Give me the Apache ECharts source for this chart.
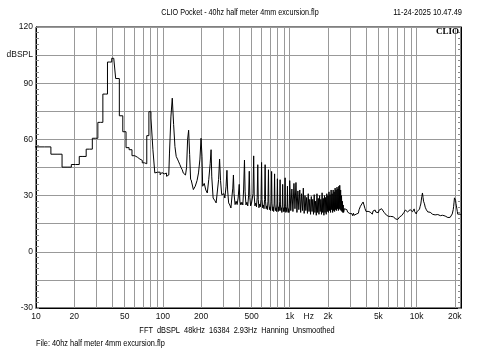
<!DOCTYPE html>
<html><head><meta charset="utf-8">
<script src="https://cdn.jsdelivr.net/npm/echarts@6/dist/echarts.min.js"></script>
<style>html,body{margin:0;padding:0;background:#fff}#c{width:480px;height:360px}</style>
</head><body><div id="c"></div>
<script>
// FFT bins (2.93 Hz spacing) for the low-frequency staircase part
const lowFreq = [8.79, 11.72, 14.65, 17.58, 20.51, 23.44, 26.37, 29.30, 32.23, 35.16, 38.09, 41.02, 43.95, 46.88, 49.80, 52.73, 55.66, 58.59, 61.52, 64.45, 67.38, 70.31, 73.24, 76.17, 79.10, 82.03, 84.96, 87.89, 90.82, 93.75, 96.68, 99.61, 102.54, 105.47, 108.40, 111.33, 114.26, 117.19, 120.12, 123.05, 125.98, 128.91, 131.84, 134.77, 137.70, 140.63, 143.55, 146.48, 149.41, 152.34, 155.27, 158.20, 161.13, 164.06, 166.99];
const lowSpl = [56, 56, 52.1, 45.2, 46.6, 50.9, 54.8, 60.6, 69.1, 84.2, 101.3, 103.3, 92.5, 72.6, 64.1, 55.6, 54.5, 51.3, 50.5, 49.5, 48.8, 47.5, 47, 62, 74.8, 71.4, 54.5, 42.1, 42.5, 42.5, 41.1, 42.3, 41.6, 42, 40.3, 41, 52.7, 72, 82, 68, 56.2, 50.9, 49.5, 48, 46.5, 45, 43.8, 42, 41, 41.5, 45, 60, 64.9, 52, 38.5];

// harmonic region 167 Hz - 1 kHz
const midFreq = [166.99, 174, 180, 186, 191, 196, 200, 203.5, 206, 212, 218, 224, 230, 236, 240, 243, 249, 256, 263, 269, 275, 280, 285, 291, 297, 303, 308, 315, 320, 324, 330, 337, 344, 351, 356, 360, 364, 371, 378, 385, 392, 400, 405, 412, 420, 427, 433, 440, 445, 452, 460, 467, 474, 480, 485, 492, 500, 507, 514, 520, 525, 532, 540, 547, 554, 560, 565, 572, 580, 587, 594, 600, 605, 612, 620, 627, 634, 640, 645, 652, 660, 667, 674, 680, 685, 692, 700, 707, 714, 720, 725, 732, 740, 747, 754, 760, 765, 772, 780, 787, 794, 800, 805, 812, 820, 827, 834, 840, 845, 852, 860, 867, 874, 880, 885, 892, 900, 907, 914, 920, 925, 932, 940, 947, 954, 960, 965, 972, 980, 987, 994, 1000];
const midSpl = [38.5, 33.2, 35, 38, 42.1, 49.5, 60.6, 51, 35, 36.5, 33, 31.4, 38.5, 47, 54.5, 40, 28.7, 27.5, 26.1, 25.2, 38.5, 49.5, 38, 30.5, 29.6, 31, 28.7, 35, 43.5, 33, 26.1, 25, 23.4, 30, 34, 41, 31, 25.2, 27, 25.2, 28.7, 36, 27, 25, 26.5, 25, 33, 49, 32, 25, 26.5, 24.5, 30, 43, 29, 24.5, 26, 25, 31, 51.2, 30, 24.5, 26, 24, 29, 46.5, 28, 23.5, 25.5, 24, 28, 47.7, 28, 23.5, 25, 23, 28, 46.5, 27, 23, 24.5, 22.5, 27, 43.8, 26, 22.5, 24, 22, 27, 42.9, 26, 22, 24, 21.5, 26, 41.6, 25, 22, 23.5, 21.5, 26, 39, 25, 21.5, 24, 22, 27, 38.5, 25, 22, 23.5, 21, 25, 36, 24, 21.5, 23.5, 21.5, 26, 39.5, 24, 21, 23.5, 21.5, 25, 35, 24, 21, 23, 21, 26, 38];

// dense region 1 kHz - 2.8 kHz
const denseFreq = [1020, 1040, 1060, 1080, 1100, 1120, 1140, 1160, 1180, 1200, 1220, 1240, 1260, 1280, 1300, 1320, 1340, 1360, 1380, 1400, 1420, 1440, 1460, 1480, 1500, 1520, 1540, 1560, 1580, 1600, 1620, 1640, 1660, 1680, 1700, 1720, 1740, 1760, 1780, 1800, 1820, 1840, 1860, 1880, 1900, 1920, 1940, 1960, 1980, 2000, 2020, 2040, 2060, 2080, 2100, 2120, 2140, 2160, 2180, 2200, 2220, 2240, 2260, 2280, 2300, 2320, 2340, 2360, 2380, 2400, 2420, 2440, 2460, 2480, 2500, 2520, 2540, 2560, 2580, 2600, 2620, 2640, 2660, 2700, 2760];
const denseSpl = [22, 33.5, 21.5, 36.5, 23, 37, 21, 32.5, 22.5, 33, 21, 31, 22, 34, 20.5, 30, 22, 29, 20.5, 31, 21.5, 28, 20, 29.5, 21.5, 28, 20, 30.5, 21, 27, 19.5, 31, 21, 28.5, 20, 30, 21.5, 28, 20, 31.5, 21, 28.5, 19.5, 30, 21, 29, 20, 31, 21.5, 30, 21, 32, 22, 30.5, 21, 33, 22.5, 31, 21, 33, 22, 32, 21.5, 34, 22.5, 33, 22, 34.5, 23, 33.5, 22, 35, 23, 35.5, 22.5, 33, 22, 30, 21.5, 27, 21, 25, 21, 23, 22.5];

// noise floor 2.8 kHz - 22 kHz
const highFreq = [2820, 2860, 2900, 2940, 2980, 3020, 3060, 3100, 3140, 3180, 3220, 3260, 3300, 3340, 3383, 3430, 3480, 3520, 3560, 3610, 3650, 3700, 3740, 3790, 3811, 3850, 3880, 3920, 3950, 4000, 4053, 4100, 4150, 4200, 4250, 4305, 4360, 4420, 4480, 4540, 4600, 4660, 4715, 4770, 4820, 4880, 4940, 5000, 5060, 5120, 5180, 5240, 5300, 5360, 5420, 5480, 5540, 5600, 5660, 5720, 5780, 5840, 5900, 5960, 6020, 6100, 6180, 6250, 6330, 6400, 6480, 6575, 6650, 6750, 6830, 6900, 6980, 7050, 7120, 7195, 7270, 7350, 7420, 7500, 7580, 7650, 7720, 7800, 7880, 7950, 8050, 8150, 8235, 8320, 8400, 8500, 8635, 8750, 8900, 9000, 9180, 9300, 9400, 9500, 9570, 9650, 9750, 9850, 9950, 10050, 10200, 10400, 10550, 10670, 10800, 10900, 11000, 11130, 11250, 11350, 11450, 11540, 11700, 11800, 11950, 12060, 12250, 12400, 12600, 12800, 13000, 13200, 13400, 13600, 13800, 14000, 14200, 14450, 14700, 14900, 15150, 15400, 15600, 15800, 16050, 16300, 16550, 16800, 17100, 17400, 17650, 17900, 18150, 18400, 18650, 18900, 19100, 19300, 19450, 19600, 19750, 19900, 20050, 20150, 20300, 20450, 20600, 20780, 20950, 21100, 21250, 21380, 21600, 21800, 22050, 22340];
const highSpl = [22.5, 21.2, 20.5, 21.8, 20.4, 21.3, 19.6, 20.3, 19.2, 20.6, 19.5, 20.4, 19.2, 20.1, 19.4, 20.8, 20.6, 22.4, 22.6, 24.3, 23.8, 25.5, 24.9, 26.6, 27, 25, 24.2, 23.1, 22.6, 21.5, 22, 20.7, 21.6, 20.6, 22, 21.2, 20.4, 21, 20.1, 21.8, 21.4, 22.6, 22.3, 21.2, 21.6, 20.6, 21.5, 20.9, 22.2, 21.3, 22.4, 21.8, 23, 22, 22.9, 22.2, 21.1, 21.3, 20.2, 20.9, 19.6, 20.3, 19.1, 19.8, 18.9, 19.6, 18.4, 18.9, 18, 18.8, 18.1, 18.7, 17.7, 18.2, 17.5, 18.4, 17.4, 17.9, 17.3, 18.1, 17.6, 18.6, 18, 18.8, 18.3, 19.4, 18.8, 19.6, 19.2, 21, 21.3, 22.3, 22.9, 21.8, 22.2, 21.3, 21.9, 21.4, 22.5, 21.8, 22.3, 21.4, 21.8, 21.2, 22.9, 21.5, 20.6, 20.9, 20.2, 21.3, 21, 22.2, 22.8, 24.3, 25.5, 27.6, 29.5, 31.4, 29, 27, 26.6, 25.6, 23.8, 23.1, 22.4, 21.7, 21.3, 21.6, 20.8, 21.1, 20.4, 20.8, 20, 19.7, 20.3, 19.7, 20.1, 19.5, 19.9, 19.2, 19.8, 19.3, 19.7, 19, 19.5, 19.2, 18.8, 19.1, 18.5, 18.9, 18.3, 18.6, 18.1, 18.4, 18.8, 19.3, 20.2, 21, 22.5, 24.3, 26.5, 28.8, 29.3, 29.5, 27.5, 25.8, 24.5, 23.8, 21.5, 20.1, 19.6, 19.3, 20, 19.6, 20.1, 19.8];

const gridFreq = [10, 20, 30, 40, 50, 60, 70, 80, 90, 100, 200, 300, 400, 500, 600, 700, 800, 900, 1000, 2000, 3000, 4000, 5000, 6000, 7000, 8000, 9000, 10000, 20000];
const xTickValues = [10, 20, 50, 100, 200, 500, 1000, 1414, 2000, 5000, 10000, 20000];
const xTickLabels = ['10', '20', '50', '100', '200', '500', '1k', 'Hz', '2k', '5k', '10k', '20k'];
const yTickValues = [120, 105, 90, 60, 30, 0, -30];
const yTickLabels = ['120', 'dBSPL', '90', '60', '30', '0', '-30'];

const FONT = '"Liberation Sans", Arial, sans-serif';
const GRID_COLOR = '#999999';

function pairs(xs, ys) { return xs.map((x, i) => [x, ys[i]]); }
const hiData = pairs(midFreq, midSpl).concat(pairs(denseFreq, denseSpl), pairs(highFreq, highSpl));

const chart = echarts.init(document.getElementById('c'), null, { renderer: 'canvas' });

function yFmt(v) {
  const i = yTickValues.indexOf(v);
  return i >= 0 ? yTickLabels[i] : '';
}
function xFmt(v) {
  let best = 0, bd = Infinity;
  xTickValues.forEach((t, i) => { const d = Math.abs(Math.log10(t) - Math.log10(v)); if (d < bd) { bd = d; best = i; } });
  return xTickLabels[best];
}

const yCommon = {
  type: 'value', min: -30, max: 120, interval: 15,
  axisLine: { show: true, onZero: false, lineStyle: { color: '#000', width: 1 } },
  axisTick: { show: true, inside: true, length: 3, lineStyle: { color: '#888' } },
  minorTick: { show: true, splitNumber: 5, length: 3, lineStyle: { color: '#888' } }
};

chart.setOption({
  animation: false,
  backgroundColor: '#fff',
  grid: { left: 36, right: 19, top: 27, bottom: 52, show: true, borderColor: '#000', borderWidth: 1, backgroundColor: 'transparent' },
  xAxis: {
    type: 'log', logBase: 10, min: 10, max: 22400,
    axisLine: { show: true, onZero: false, lineStyle: { color: '#000' } },
    axisTick: { show: false, customValues: gridFreq },
    splitLine: { show: true, lineStyle: { color: GRID_COLOR, width: 1 } },
    minorTick: { show: false },
    minorSplitLine: { show: false },
    axisLabel: { customValues: xTickValues, formatter: xFmt, margin: 4, fontSize: 8.5, fontFamily: FONT, color: '#111' }
  },
  yAxis: [
    Object.assign({}, yCommon, {
      position: 'left',
      splitLine: { show: true, lineStyle: { color: GRID_COLOR, width: 1 } },
      axisLabel: { formatter: yFmt, margin: 3, fontSize: 8.5, fontFamily: FONT, color: '#111' }
    }),
    Object.assign({}, yCommon, {
      position: 'right',
      splitLine: { show: false },
      axisLabel: { show: false }
    })
  ],
  series: [
    {
      type: 'line', step: 'middle', data: pairs(lowFreq, lowSpl), showSymbol: false, silent: true, z: 3,
      lineStyle: { color: '#000', width: 1 }, emphasis: { disabled: true }
    },
    {
      type: 'line', data: hiData, showSymbol: false, silent: true, z: 3,
      lineStyle: { color: '#000', width: 1 }, emphasis: { disabled: true }
    }
  ],
  graphic: [
    { type: 'text', x: 240, y: 13, scaleX: 0.8, style: { text: 'CLIO Pocket - 40hz half meter 4mm excursion.flp', font: '9px ' + FONT, fill: '#000', textAlign: 'center', textVerticalAlign: 'middle', align: 'center', verticalAlign: 'middle' } },
    { type: 'text', x: 462, y: 13, scaleX: 0.83, style: { text: '11-24-2025 10.47.49', font: '9px ' + FONT, fill: '#000', textAlign: 'right', textVerticalAlign: 'middle', align: 'right', verticalAlign: 'middle' } },
    { type: 'text', x: 459, y: 32, z: 10, style: { text: 'CLIO', font: 'bold 9px "Liberation Serif", serif', fill: '#000', textAlign: 'right', textVerticalAlign: 'middle', align: 'right', verticalAlign: 'middle' } },
    { type: 'text', x: 237, y: 331, scaleX: 0.82, style: { text: 'FFT  dBSPL  48kHz  16384  2.93Hz  Hanning  Unsmoothed', font: '9px ' + FONT, fill: '#000', textAlign: 'center', textVerticalAlign: 'middle', align: 'center', verticalAlign: 'middle' } },
    { type: 'text', x: 36, y: 343.5, scaleX: 0.82, style: { text: 'File: 40hz half meter 4mm excursion.flp', font: '9px ' + FONT, fill: '#000', textAlign: 'left', textVerticalAlign: 'middle', align: 'left', verticalAlign: 'middle' } }
  ]
});
</script></body></html>
